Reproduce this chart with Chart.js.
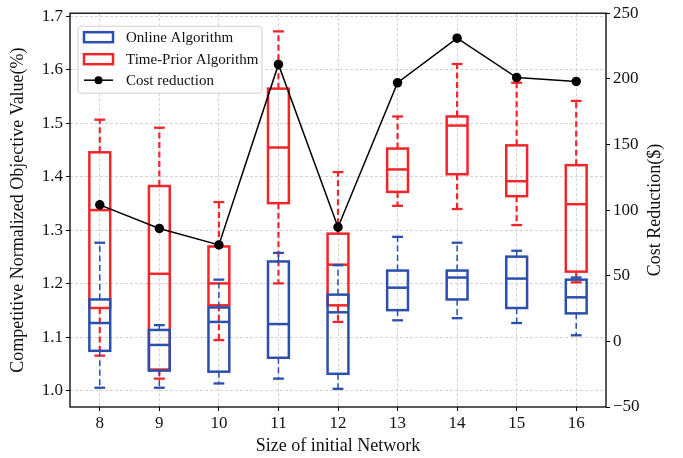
<!DOCTYPE html>
<html>
<head>
<meta charset="utf-8">
<script src="https://cdn.jsdelivr.net/npm/chart.js@4.4.0/dist/chart.umd.min.js"></script>
<style>
  body { margin: 0; background: #fff; }
  canvas { display: block; }
</style>
</head>
<body>
<canvas id="myChart" width="683" height="458"></canvas>
<script>
const categories = ['8', '9', '10', '11', '12', '13', '14', '15', '16'];

// Online Algorithm box stats
const onlineLow = [1.006, 1.006, 1.014, 1.023, 1.004, 1.132, 1.136, 1.127, 1.104];
const onlineQ1 = [1.075, 1.038, 1.036, 1.062, 1.032, 1.151, 1.171, 1.155, 1.145];
const onlineMed = [1.127, 1.086, 1.129, 1.125, 1.147, 1.193, 1.212, 1.210, 1.175];
const onlineQ3 = [1.171, 1.114, 1.156, 1.242, 1.180, 1.225, 1.225, 1.251, 1.208];
const onlineHigh = [1.277, 1.123, 1.208, 1.258, 1.235, 1.288, 1.277, 1.262, 1.212];

// Time-Prior Algorithm box stats
const priorLow = [1.066, 1.023, 1.095, 1.201, 1.129, 1.346, 1.340, 1.310, 1.203];
const priorQ1 = [1.155, 1.040, 1.160, 1.351, 1.160, 1.372, 1.405, 1.364, 1.223];
const priorMed = [1.338, 1.219, 1.201, 1.455, 1.236, 1.414, 1.496, 1.392, 1.349];
const priorQ3 = [1.446, 1.383, 1.270, 1.565, 1.294, 1.453, 1.513, 1.459, 1.422];
const priorHigh = [1.507, 1.492, 1.353, 1.672, 1.409, 1.513, 1.611, 1.576, 1.542];

const costReduction = [104, 86, 73.5, 211, 87, 197, 231, 201, 198];

const leftTicks = [1.0, 1.1, 1.2, 1.3, 1.4, 1.5, 1.6, 1.7];
const rightTicks = [-50, 0, 50, 100, 150, 200, 250];

const blue = '#2b4fac';
const red = '#f0262a';
const serif = '"Liberation Serif", "DejaVu Serif", serif';

const boxSeries = [
    { label: 'Online Algorithm', color: blue, whiskerWidth: 1.5, low: onlineLow, q1: onlineQ1, med: onlineMed, q3: onlineQ3, high: onlineHigh },
    { label: 'Time-Prior Algorithm', color: red, whiskerWidth: 2.2, low: priorLow, q1: priorQ1, med: priorMed, q3: priorQ3, high: priorHigh }
];

function vline(ctx, x, y1, y2) {
    ctx.beginPath();
    ctx.moveTo(x, y1);
    ctx.lineTo(x, y2);
    ctx.stroke();
}

function hline(ctx, x1, x2, y) {
    ctx.beginPath();
    ctx.moveTo(x1, y);
    ctx.lineTo(x2, y);
    ctx.stroke();
}

function drawBoxes(chart, s) {
    const ctx = chart.ctx;
    const xs = chart.scales.x;
    const ys = chart.scales.y;
    const cw = xs.getPixelForValue(1) - xs.getPixelForValue(0);
    const bw = cw * 0.35;
    const capw = bw * 0.52;
    ctx.save();
    ctx.strokeStyle = s.color;
    for (let i = 0; i < categories.length; i++) {
        let x = xs.getPixelForValue(i);
        let pLow = ys.getPixelForValue(s.low[i]);
        let pQ1 = ys.getPixelForValue(s.q1[i]);
        let pMed = ys.getPixelForValue(s.med[i]);
        let pQ3 = ys.getPixelForValue(s.q3[i]);
        let pHigh = ys.getPixelForValue(s.high[i]);

        // whiskers
        ctx.lineWidth = s.whiskerWidth;
        ctx.setLineDash([6, 3.5]);
        vline(ctx, x, pQ3, pHigh);
        vline(ctx, x, pQ1, pLow);
        ctx.setLineDash([]);
        ctx.lineWidth = 2.3;
        hline(ctx, x - capw / 2, x + capw / 2, pHigh);
        hline(ctx, x - capw / 2, x + capw / 2, pLow);

        // box + median
        ctx.lineWidth = 2.5;
        ctx.strokeRect(x - bw / 2, pQ3, bw, pQ1 - pQ3);
        hline(ctx, x - bw / 2, x + bw / 2, pMed);
    }
    ctx.restore();
}

const boxPlugin = {
    id: 'boxPlugin',
    beforeDatasetsDraw(chart) {
        drawBoxes(chart, boxSeries[1]);
        drawBoxes(chart, boxSeries[0]);
    },
    afterDatasetsDraw(chart) {
        const ctx = chart.ctx;
        const a = chart.chartArea;
        ctx.save();
        // frame
        ctx.strokeStyle = '#000';
        ctx.lineWidth = 1.3;
        ctx.strokeRect(a.left, a.top, a.right - a.left, a.bottom - a.top);

        // right axis title, reading bottom to top
        ctx.save();
        ctx.translate(655, (a.top + a.bottom) / 2);
        ctx.rotate(-Math.PI / 2);
        ctx.font = '18px ' + serif;
        ctx.fillStyle = '#111';
        ctx.textAlign = 'center';
        ctx.textBaseline = 'middle';
        ctx.fillText('Cost Reduction($)', 0, 0);
        ctx.restore();

        // legend
        let lx = a.left + 8, ly = a.top + 13, lw = 184, lh = 67;
        ctx.beginPath();
        ctx.roundRect(lx, ly, lw, lh, 3);
        ctx.fillStyle = 'rgba(255,255,255,0.85)';
        ctx.fill();
        ctx.strokeStyle = '#d0d0d0';
        ctx.lineWidth = 1;
        ctx.stroke();

        ctx.font = '15px ' + serif;
        ctx.textBaseline = 'middle';
        ctx.textAlign = 'left';
        let rows = [ly + 11, ly + 33, ly + 54];
        boxSeries.forEach(function (s, k) {
            ctx.strokeStyle = s.color;
            ctx.lineWidth = 2.5;
            ctx.fillStyle = '#fff';
            ctx.fillRect(lx + 6, rows[k] - 5, 29, 10);
            ctx.strokeRect(lx + 6, rows[k] - 5, 29, 10);
            ctx.fillStyle = '#111';
            ctx.fillText(s.label, lx + 48, rows[k] + 1);
        });
        ctx.strokeStyle = '#000';
        ctx.lineWidth = 1.5;
        hline(ctx, lx + 6, lx + 35, rows[2]);
        ctx.beginPath();
        ctx.arc(lx + 20.5, rows[2], 4, 0, Math.PI * 2);
        ctx.fillStyle = '#000';
        ctx.fill();
        ctx.fillStyle = '#111';
        ctx.fillText('Cost reduction', lx + 48, rows[2] + 1);
        ctx.restore();
    }
};

const ctx = document.getElementById('myChart');
const chart = new Chart(ctx, {
    type: 'line',
    data: {
        labels: categories,
        datasets: [{
            label: 'Cost reduction',
            data: costReduction,
            yAxisID: 'y1',
            borderColor: '#000',
            borderWidth: 1.5,
            pointRadius: 4,
            pointBackgroundColor: '#000',
            pointBorderColor: '#000',
            tension: 0
        }]
    },
    options: {
        responsive: false,
        animation: false,
        devicePixelRatio: 1,
        layout: { padding: { top: 10, left: 0, right: 0, bottom: 0 } },
        plugins: {
            legend: { display: false },
            tooltip: { enabled: false }
        },
        scales: {
            x: {
                offset: true,
                grid: {
                    color: '#c8c8c8',
                    lineWidth: 0.8,
                    tickColor: '#000',
                    tickLength: 4,
                    tickWidth: 1,
                    tickBorderDash: []
                },
                border: { display: false, dash: [3, 2] },
                ticks: { color: '#111', font: { family: serif, size: 17 }, padding: 2, maxRotation: 0 },
                title: {
                    display: true,
                    text: 'Size of initial Network',
                    color: '#111',
                    font: { family: serif, size: 18 },
                    padding: { top: 0, bottom: 1 }
                },
                afterFit: (scale) => { scale.height = 51; }
            },
            y: {
                position: 'left',
                min: 0.97,
                max: 1.706,
                afterBuildTicks: (scale) => { scale.ticks = leftTicks.map((v) => ({ value: v })); },
                grid: {
                    color: '#c8c8c8',
                    lineWidth: 0.8,
                    tickColor: '#000',
                    tickLength: 4,
                    tickWidth: 1,
                    tickBorderDash: []
                },
                border: { display: false, dash: [3, 2] },
                ticks: {
                    color: '#111',
                    font: { family: serif, size: 17 },
                    padding: 3,
                    callback: (v) => v.toFixed(1)
                },
                title: {
                    display: true,
                    text: 'Competitive Normalized Objective Value(%)',
                    color: '#111',
                    font: { family: serif, size: 18 },
                    padding: { top: 7, bottom: 0 }
                },
                afterFit: (scale) => { scale.width = 70; }
            },
            y1: {
                position: 'right',
                min: -50,
                max: 250,
                afterBuildTicks: (scale) => { scale.ticks = rightTicks.map((v) => ({ value: v })); },
                grid: {
                    drawOnChartArea: false,
                    tickColor: '#000',
                    tickLength: 4,
                    tickWidth: 1
                },
                border: { display: false },
                ticks: {
                    color: '#111',
                    font: { family: serif, size: 17 },
                    padding: 3,
                    callback: (v) => (v < 0 ? '\u2212' + Math.abs(v) : String(v))
                },
                title: { display: false },
                afterFit: (scale) => { scale.width = 77; }
            }
        }
    },
    plugins: [boxPlugin]
});
</script>
</body>
</html>
